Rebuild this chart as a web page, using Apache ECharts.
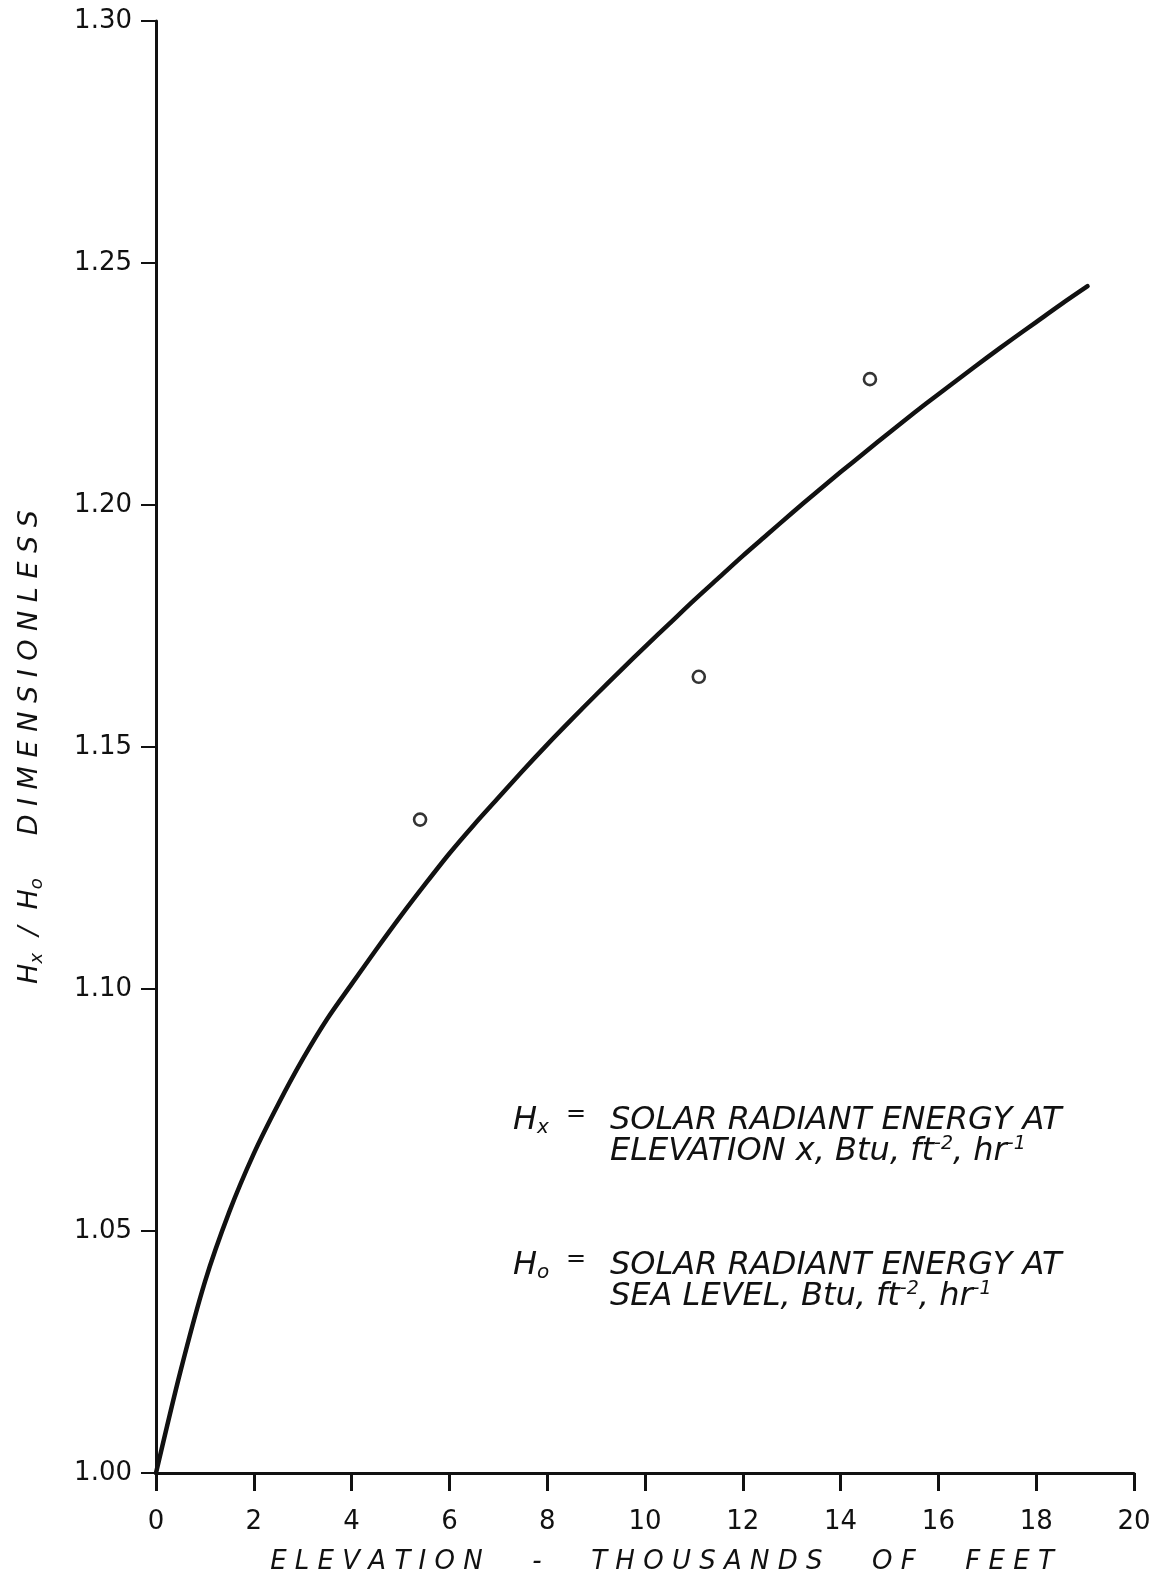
<!DOCTYPE html>
<html>
<head>
<meta charset="utf-8">
<title>Solar radiant energy vs. elevation</title>
<script src="https://cdn.jsdelivr.net/npm/echarts@6/dist/echarts.min.js"></script>
<style>
  html, body { margin: 0; padding: 0; background: #fff; }
  #chart { width: 1158px; height: 1579px; }
</style>
</head>
<body>
<div id="chart"></div>
<script>
// Elevation (thousands of feet) and Hx/Ho ratio along the fitted curve
const curveElevation = [0, 0.5, 1, 1.5, 2, 2.5, 3, 3.5, 4, 4.5, 5, 5.5, 6, 6.5, 7, 7.5, 8, 8.5, 9, 9.5,
                        10, 10.5, 11, 11.5, 12, 12.5, 13, 13.5, 14, 14.5, 15, 15.5, 16, 16.5, 17, 17.5, 18, 18.5, 19.05];
const curveRatio     = [1.000, 1.021, 1.0395, 1.0540, 1.0660, 1.0762, 1.0855, 1.0938, 1.1010, 1.1081,
                        1.1150, 1.1216, 1.1280, 1.1339, 1.1395, 1.1451, 1.1505, 1.1557, 1.1608, 1.1658,
                        1.1707, 1.1755, 1.1803, 1.1849, 1.1895, 1.1939, 1.1983, 1.2026, 1.2068, 1.2109,
                        1.2150, 1.2190, 1.2229, 1.2267, 1.2305, 1.2342, 1.2378, 1.2414, 1.2452];

// Observed stations
const obsElevation = [5.4, 11.1, 14.6];
const obsRatio     = [1.135, 1.1645, 1.226];

// Axis ticks
const xTicks = [0, 2, 4, 6, 8, 10, 12, 14, 16, 18, 20];
const yTicks = [1.00, 1.05, 1.10, 1.15, 1.20, 1.25, 1.30];

const INK = '#111';
const FONT = "'DejaVu Sans', sans-serif";

const chart = echarts.init(document.getElementById('chart'), null, { renderer: 'canvas' });

const legendMain = { fontSize: 32, fontStyle: 'italic', fontFamily: FONT, color: INK, lineHeight: 34, verticalAlign: 'middle' };
const legendEq   = { fontSize: 24, fontFamily: FONT, color: INK, lineHeight: 34, verticalAlign: 'middle' };
const legendSub  = { fontSize: 20, fontStyle: 'italic', fontFamily: FONT, color: INK, lineHeight: 34, verticalAlign: 'bottom' };
const legendSup  = { fontSize: 19, fontStyle: 'italic', fontFamily: FONT, color: INK, lineHeight: 34, verticalAlign: 'top' };
const legendRich = { m: legendMain, eq: legendEq, sub: legendSub, sup: legendSup };

function legendText(x, y, text) {
  return {
    type: 'text', left: x, top: y - 17,
    style: { text: text, rich: legendRich, fill: INK, font: "italic 32px 'DejaVu Sans'" }
  };
}

chart.setOption({
  backgroundColor: '#fff',
  animation: false,
  grid: { left: 156, right: 24, top: 21, bottom: 106, containLabel: false, outerBoundsMode: 'none' },
  xAxis: {
    type: 'value',
    min: xTicks[0], max: xTicks[xTicks.length - 1], interval: 2,
    axisLine: { show: true, lineStyle: { color: INK, width: 3 } },
    axisTick: { show: true, inside: false, length: 18, lineStyle: { color: INK, width: 3 } },
    axisLabel: { margin: 36, fontSize: 26, fontFamily: FONT, color: INK },
    splitLine: { show: false },
    name: 'E L E V A T I O N      -      T H O U S A N D S      O F      F E E T',
    nameLocation: 'middle',
    nameGap: 76,
    nameTextStyle: { fontSize: 26, fontStyle: 'italic', fontFamily: FONT, color: INK, padding: [0, 0, 0, 34] }
  },
  yAxis: {
    type: 'value',
    min: yTicks[0], max: yTicks[yTicks.length - 1], interval: 0.05,
    axisLine: { show: true, onZero: false, lineStyle: { color: INK, width: 3 } },
    axisTick: { show: true, inside: false, length: 15, lineStyle: { color: INK, width: 2 } },
    axisLabel: { margin: 24, fontSize: 26, fontFamily: FONT, color: INK, formatter: v => v.toFixed(2) },
    splitLine: { show: false },
    name: '{m|H}{sub|x}{m|  /  H}{sub|o}{m|     D I M E N S I O N L E S S}',
    nameLocation: 'middle',
    nameRotate: 90,
    nameGap: 110,
    nameTextStyle: {
      color: INK,
      rich: {
        m:   { fontSize: 27, fontStyle: 'italic', fontFamily: FONT, color: INK, lineHeight: 32, verticalAlign: 'middle' },
        sub: { fontSize: 18, fontStyle: 'italic', fontFamily: FONT, color: INK, lineHeight: 32, verticalAlign: 'bottom' }
      }
    }
  },
  series: [
    {
      name: 'Hx/Ho curve',
      type: 'line',
      data: curveElevation.map((x, i) => [x, curveRatio[i]]),
      smooth: 0.3,
      showSymbol: false,
      lineStyle: { color: INK, width: 4.5, join: 'round', cap: 'round' },
      z: 3
    },
    {
      name: 'Observed',
      type: 'scatter',
      data: obsElevation.map((x, i) => [x, obsRatio[i]]),
      symbol: 'circle',
      symbolSize: 12,
      itemStyle: { color: '#fff', borderColor: '#000', borderWidth: 2.6 },
      z: 4
    }
  ],
  graphic: [
    legendText(513, 1122, '{m|H}{sub|x}'),
    legendText(566, 1120, '{eq|=}'),
    legendText(610, 1122, '{m|SOLAR RADIANT ENERGY AT}'),
    legendText(610, 1152, '{m|ELEVATION x, Btu, ft}{sup|-2}{m|, hr}{sup|-1}'),
    legendText(513, 1267, '{m|H}{sub|o}'),
    legendText(566, 1265, '{eq|=}'),
    legendText(610, 1267, '{m|SOLAR RADIANT ENERGY AT}'),
    legendText(610, 1297, '{m|SEA LEVEL, Btu, ft}{sup|-2}{m|, hr}{sup|-1}')
  ]
});
</script>
</body>
</html>
